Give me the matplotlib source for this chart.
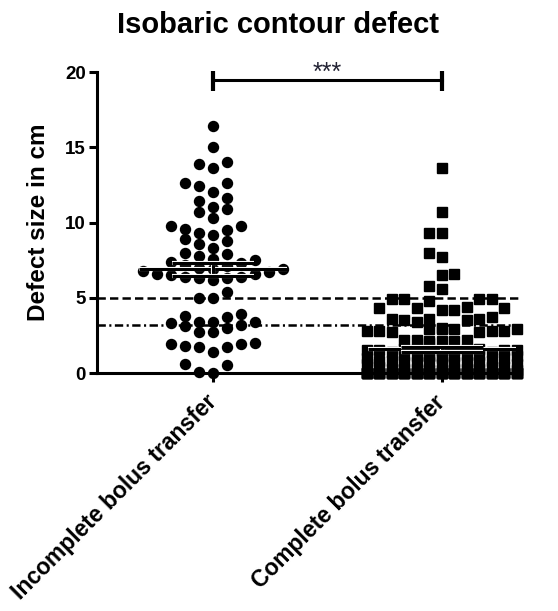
import numpy as np
import matplotlib.pyplot as plt
import matplotlib.patheffects as pe

plt.rcParams['font.family'] = ['Liberation Sans', 'DejaVu Sans']
plt.rcParams['font.weight'] = 'bold'
plt.rcParams['lines.scale_dashes'] = False

title = "Isobaric contour defect"
ylabel = "Defect size in cm"
groups = ["Incomplete bolus transfer", "Complete bolus transfer"]

# defect sizes (cm)
incomplete = [16.4, 15.0, 14.0, 13.9, 13.6, 12.6, 12.4, 12.6, 12.0, 11.6, 11.4,
              11.0, 10.7, 10.3, 10.9, 9.8, 9.5, 9.2, 9.3, 9.6, 9.8,
              8.9, 8.6, 8.3, 8.8, 7.9, 7.6, 7.8, 8.0,
              7.0, 6.9, 7.1, 6.9, 7.5, 7.4, 7.3, 7.2, 6.6, 6.5, 6.4, 6.3,
              6.3, 6.2, 6.4, 6.6, 6.7, 6.8,
              5.4, 5.0, 5.0,
              3.9, 3.8, 3.7, 3.4, 3.4, 3.3, 3.2, 3.1, 3.0, 2.7, 2.7, 3.4,
              2.0, 1.9, 1.9, 1.8, 1.7, 1.7, 1.4,
              0.6, 0.5, 0.1, 0.0]

complete_upper = [13.6, 10.7, 9.3, 9.3, 8.0, 7.7, 6.6, 6.5, 5.8, 5.6,
                  4.9, 4.9, 4.9, 4.9, 4.8,
                  4.4, 4.3, 4.3, 4.2, 4.3, 4.2,
                  3.7, 3.6, 3.6, 3.5, 3.5, 3.6, 3.4,
                  2.9, 2.9, 2.8, 3.0, 2.9, 2.8, 2.7, 2.9, 2.8, 2.7, 2.8,
                  2.2, 2.1, 2.2, 2.1, 2.0, 2.2, 2.1]
complete_low = [1.5, 1.6, 1.5, 1.4, 1.6, 1.5, 1.5, 1.4, 1.6, 1.5, 1.5, 1.6,
                1.1, 1.1, 1.0, 1.2, 1.1, 1.1, 1.0, 1.2, 1.1, 1.1, 1.0, 1.2,
                0.7, 0.7, 0.8, 0.6, 0.7, 0.7, 0.8, 0.6, 0.7, 0.7, 0.8, 0.6,
                0.3, 0.3, 0.2, 0.4, 0.3, 0.3, 0.2, 0.4, 0.3, 0.3, 0.2, 0.4]
complete_zeros = 64
complete = complete_upper + complete_low + [0.0] * complete_zeros

limit_dashed = 5.0
limit_dashdot = 3.2
sig_y = 19.45
sig_text = "***"


def swarm_offsets(values, slot_w, row_h, max_slot):
    """GraphPad-like column layout: lowest values first, centre slot first."""
    slots = [0]
    for k in range(1, max_slot + 1):
        slots += [-k, k]
    placed = {s: [] for s in slots}
    offsets = np.zeros(len(values))
    for i in np.argsort(values, kind="stable"):
        v = values[i]
        best, best_hits = None, None
        for s in slots:
            hits = sum(abs(v - p) < row_h for p in placed[s])
            if hits == 0:
                best = s
                break
            if best_hits is None or hits < best_hits:
                best, best_hits = s, hits
        placed[best].append(v)
        offsets[i] = best * slot_w
    return offsets


fig = plt.figure(figsize=(5.58, 6.11), dpi=100)
ax = fig.add_axes([0.1738, 0.3895, 0.758, 0.4926])
ax.set_xlim(-0.507, 1.341)
ax.set_ylim(0, 20)

px_x = ax.bbox.width / (1.341 + 0.507)   # pixels per x unit
px_y = ax.bbox.height / 20.0             # pixels per y unit

lw = 2.2
halo = [pe.withStroke(linewidth=3.0, foreground='white')]

# reference lines
ax.axhline(limit_dashed, color='black', lw=1.8, dashes=(6, 3), zorder=2)
ax.axhline(limit_dashdot, color='black', lw=1.8, dashes=(6, 2.5, 1.5, 2.5), zorder=2)

markers = ['o', 's']
spacing = [14.0, 12.5]
row_px = [9.5, 13.0]
max_slots = [6, 6]
for xi, vals in enumerate([incomplete, complete]):
    vals = np.array(vals)
    off = swarm_offsets(vals, spacing[xi] / px_x, row_px[xi] / px_y, max_slots[xi])
    ax.plot(xi + off, vals, linestyle='none', marker=markers[xi], markersize=7.2,
            color='black', zorder=3, clip_on=False)
    mean = vals.mean()
    sem = vals.std(ddof=1) / np.sqrt(len(vals))
    ax.plot([xi - 0.325, xi + 0.325], [mean, mean], color='black', lw=lw,
            zorder=4, path_effects=halo, solid_capstyle='butt')
    ax.errorbar(xi, mean, yerr=sem, fmt='none', ecolor='black', elinewidth=lw,
                capsize=29.5, capthick=lw, zorder=4, path_effects=halo)

# significance bracket
ax.plot([0, 1], [sig_y, sig_y], color='black', lw=lw, clip_on=False, zorder=5)
ax.vlines([0, 1], sig_y - 0.7, sig_y + 0.62, color='black', lw=3, clip_on=False,
          zorder=5)
ax.text(0.5, sig_y + 0.05, sig_text, ha='center', va='baseline', fontsize=18,
        fontweight='normal', color='#222233')

for side in ['top', 'right']:
    ax.spines[side].set_visible(False)
for side in ['left', 'bottom']:
    ax.spines[side].set_linewidth(lw)

ax.set_yticks([0, 5, 10, 15, 20])
ax.tick_params(axis='y', direction='out', length=6, width=lw, labelsize=13.5, pad=2)
ax.tick_params(axis='x', direction='out', length=6.5, width=lw, labelsize=16.5, pad=12)
ax.set_xticks([0, 1])
ax.set_xticklabels(groups, rotation=45, ha='right', va='center',
                   rotation_mode='anchor')
for t in ax.get_yticklabels() + ax.get_xticklabels():
    t.set_fontweight('bold')

ax.text(-0.139, 0.5, ylabel, transform=ax.transAxes, rotation=90, ha='center',
        va='center', fontsize=17.5, fontweight='bold')
fig.text(0.499, 1 - 25 / 611, title, ha='center', va='center', fontsize=21,
         fontweight='bold')

fig.savefig('out.png', dpi=100)
